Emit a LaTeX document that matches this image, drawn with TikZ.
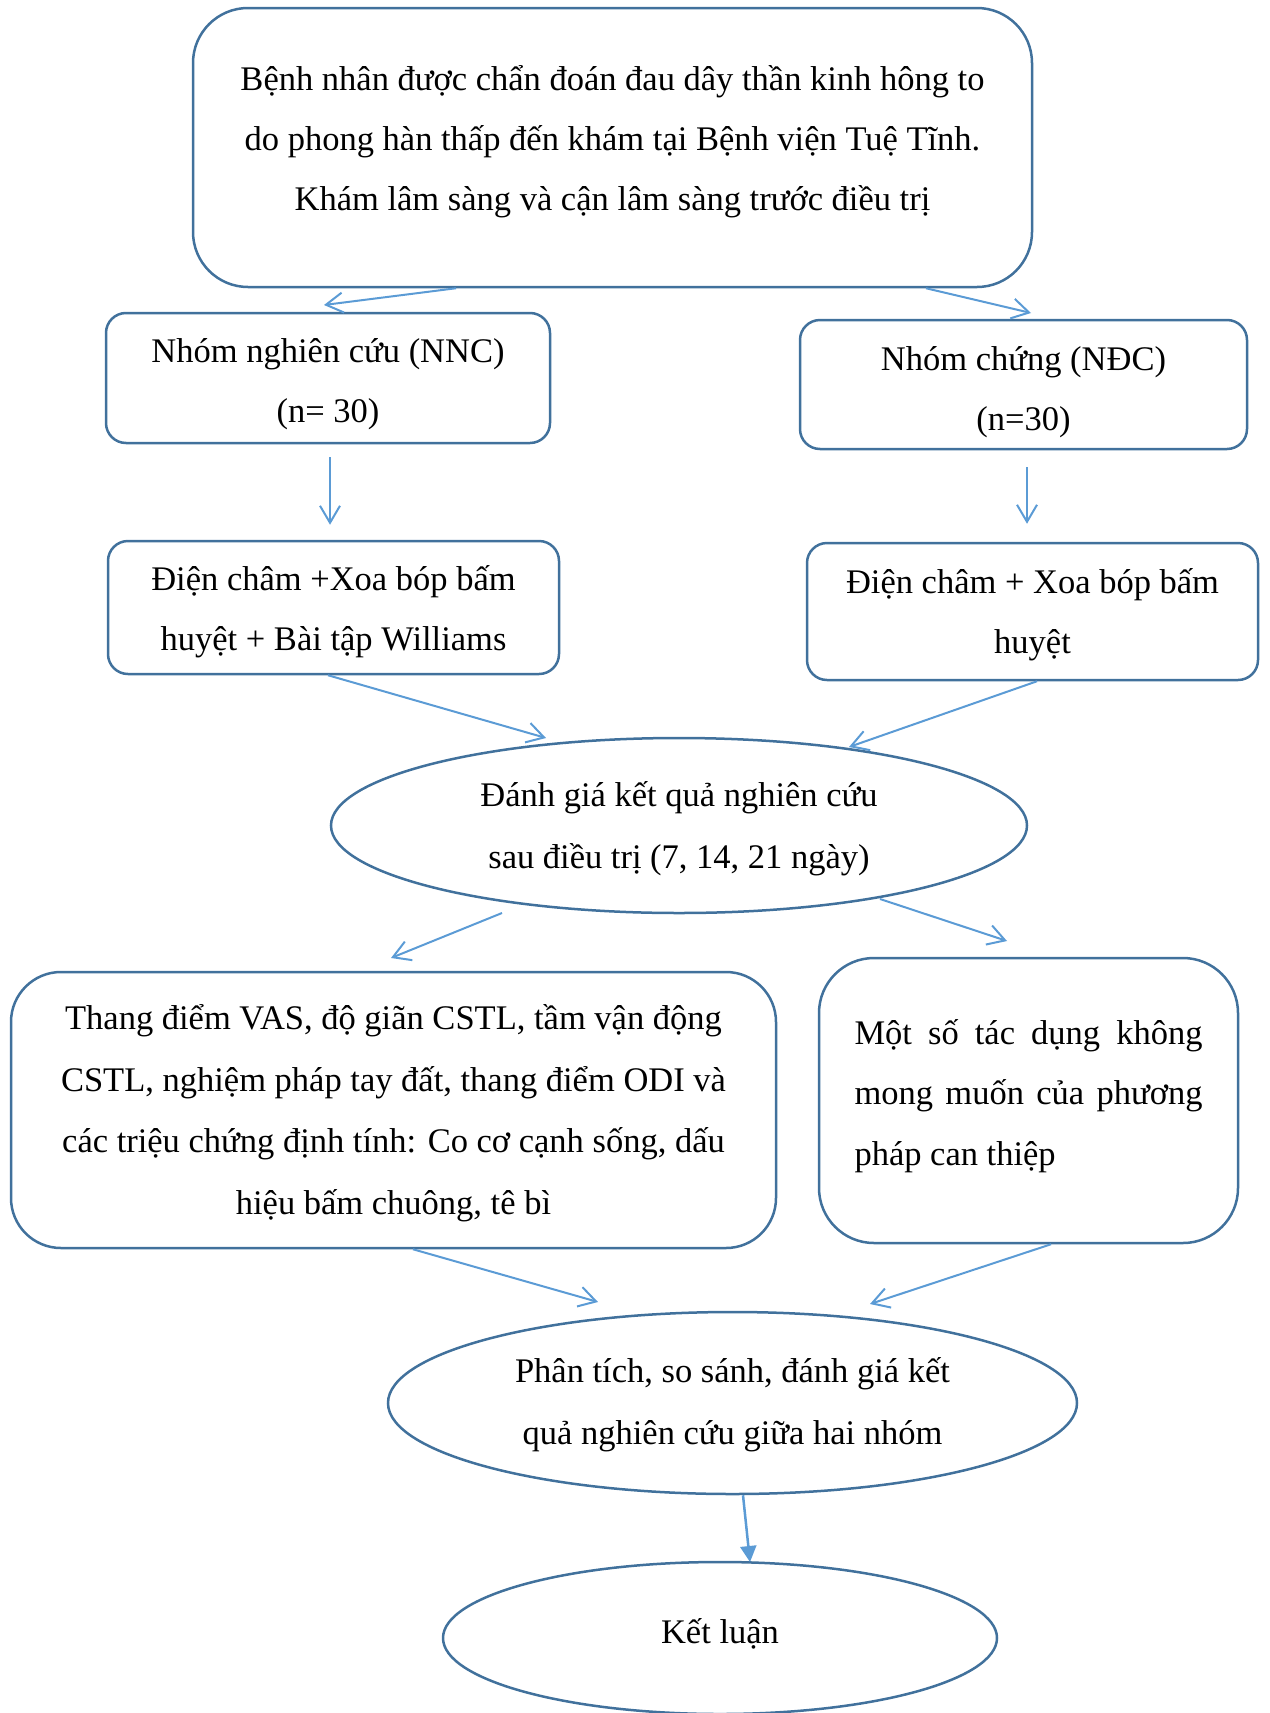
\documentclass[tikz,border=0pt]{standalone}
\usepackage{fontspec}
\setmainfont{Liberation Serif}
\usetikzlibrary{shapes.geometric,arrows.meta,calc}
\definecolor{boxblue}{HTML}{41719C}
\definecolor{arrblue}{HTML}{5B9BD5}
\tikzset{
  txt/.style={font=\fontsize{34.5}{60}\selectfont, inner sep=0pt, align=center},
  rbox/.style={draw=boxblue, line width=2.5pt, rounded corners=#1, inner sep=0pt},
  ebox/.style={draw=boxblue, line width=2.5pt, ellipse, inner sep=0pt},
  arr/.style={draw=arrblue, line width=2pt, line join=miter, -{Straight Barb[length=17pt,width=20pt]}},
  arrfill/.style={draw=arrblue, line width=2.5pt, -{Triangle[length=16pt,width=16pt,fill=arrblue]}}
}
\begin{document}
\begin{tikzpicture}[x=1pt,y=-1pt]
\useasboundingbox (0,0) rectangle (1269,1713);

% shapes
\node[rbox=55pt, minimum width=839pt, minimum height=279pt] (top) at (612.5,147.5) {};
\node[rbox=20pt, minimum width=444pt, minimum height=130pt] (nnc) at (328,378) {};
\node[rbox=20pt, minimum width=447pt, minimum height=129pt] (ndc) at (1023.5,384.5) {};
\node[rbox=20pt, minimum width=451pt, minimum height=133pt] (dcl) at (333.5,607.5) {};
\node[rbox=20pt, minimum width=451pt, minimum height=137pt] (dcr) at (1032.5,611.5) {};
\node[ebox, minimum width=696pt, minimum height=175pt] (e1) at (679,825.5) {};
\node[rbox=50pt, minimum width=765pt, minimum height=276pt] (big) at (393.5,1110) {};
\node[rbox=55pt, minimum width=419pt, minimum height=285pt] (rgt) at (1028.5,1100.5) {};
\node[ebox, minimum width=689pt, minimum height=182pt] (e2) at (732.5,1403) {};
\node[ebox, minimum width=554pt, minimum height=152pt] (e3) at (720,1638) {};

% texts
\node[txt] (topT) at (612.5,142)
  {Bệnh nhân được chẩn đoán đau dây thần kinh hông to\\do phong hàn thấp đến khám tại Bệnh viện Tuệ Tĩnh.\\Khám lâm sàng và cận lâm sàng trước điều trị};
\node[txt] (nncT) at (328,384.5) {Nhóm nghiên cứu (NNC)\\(n= 30)};
\node[txt] (ndcT) at (1023.5,392) {Nhóm chứng (NĐC)\\(n=30)};
\node[txt] (dclT) at (333.5,612) {Điện châm +Xoa bóp bấm\\huyệt + Bài tập Williams};
\node[txt] (dcrT) at (1032.5,615) {Điện châm + Xoa bóp bấm\\huyệt};
\node[txt, font=\fontsize{34.5}{62}\selectfont] (e1T) at (679,829)
  {Đánh giá kết quả nghiên cứu\\sau điều trị (7, 14, 21 ngày)};
\node[txt, font=\fontsize{34.5}{61.5}\selectfont] (bigT) at (393.5,1113)
  {Thang điểm VAS, độ giãn CSTL, tầm vận động\\CSTL, nghiệm pháp tay đất, thang điểm ODI và\\các triệu chứng định tính: Co cơ cạnh sống, dấu\\hiệu bấm chuông, tê bì};
\node[txt, text width=348pt, align=justify, font=\fontsize{34.5}{60.6}\selectfont] (rgtT) at (1028.5,1096)
  {\hyphenpenalty=10000\relax Một số tác dụng không mong muốn của phương pháp can thiệp};
\node[txt, font=\fontsize{34.5}{62}\selectfont] (e2T) at (732.5,1405)
  {Phân tích, so sánh, đánh giá kết\\quả nghiên cứu giữa hai nhóm};
\node[txt] (e3T) at (720,1633.6) {Kết luận};

% connectors
\coordinate (a1) at (324,305);
\coordinate (a2) at (1031,313);
\draw[arr] ([xshift=-156.5pt]top.south) -- (a1);
\draw[arr] ([xshift=313.5pt]top.south) -- (a2);

\draw[arr] ([xshift=2pt,yshift=-13pt]nnc.south) -- ([xshift=-3.5pt,yshift=15pt]dcl.north);
\draw[arr] ([xshift=3.5pt,yshift=-17pt]ndc.south) -- ([xshift=-5.5pt,yshift=18pt]dcr.north);

\coordinate (b1) at (546,738);
\coordinate (b2) at (849,747);
\draw[arr] ([xshift=-5.5pt]dcl.south) -- (b1);
\draw[arr] ([xshift=4.5pt]dcr.south) -- (b2);

\coordinate (c1s) at (502,913);
\coordinate (c1) at (391,958);
\coordinate (c2s) at (880,899);
\coordinate (c2) at (1007,941);
\draw[arr] (c1s) -- (c1);
\draw[arr] (c2s) -- (c2);

\coordinate (d1) at (598,1302);
\coordinate (d2) at (870,1304);
\draw[arr] ([xshift=19.5pt]big.south) -- (d1);
\draw[arr] ([xshift=22.5pt]rgt.south) -- (d2);

\coordinate (f1) at (750,1562);
\draw[arrfill] ([xshift=10.5pt]e2.south) -- (f1);
\end{tikzpicture}
\end{document}
